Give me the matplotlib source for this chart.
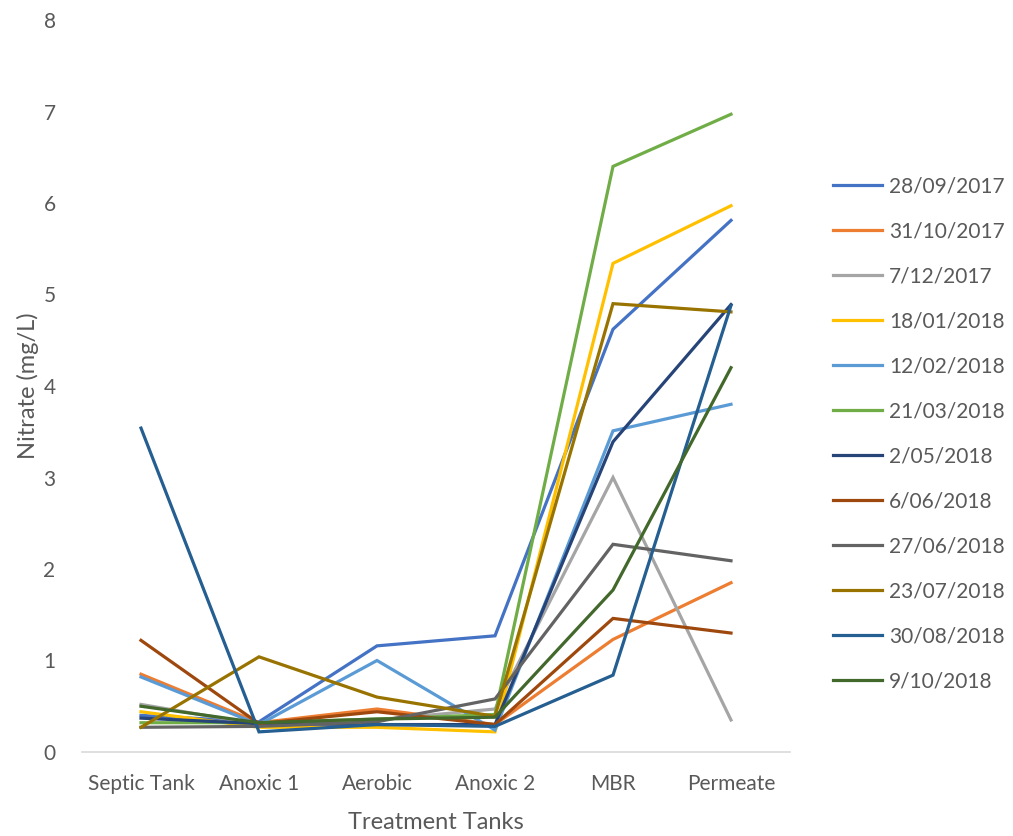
import matplotlib
matplotlib.use("Agg")
import matplotlib.pyplot as plt

tanks = ["Septic Tank", "Anoxic 1", "Aerobic", "Anoxic 2", "MBR", "Permeate"]

dates = ["28/09/2017", "31/10/2017", "7/12/2017", "18/01/2018", "12/02/2018",
         "21/03/2018", "2/05/2018", "6/06/2018", "27/06/2018", "23/07/2018",
         "30/08/2018", "9/10/2018"]

s_28_09_2017 = [0.40, 0.33, 1.16, 1.27, 4.62, 5.81]
s_31_10_2017 = [0.85, 0.32, 0.47, 0.30, 1.23, 1.85]
s_07_12_2017 = [0.52, 0.30, 0.35, 0.47, 3.00, 0.35]
s_18_01_2018 = [0.44, 0.27, 0.27, 0.22, 5.34, 5.97]
s_12_02_2018 = [0.82, 0.30, 1.00, 0.24, 3.51, 3.80]
s_21_03_2018 = [0.32, 0.32, 0.36, 0.41, 6.40, 6.97]
s_02_05_2018 = [0.37, 0.31, 0.30, 0.30, 3.39, 4.89]
s_06_06_2018 = [1.22, 0.31, 0.44, 0.30, 1.46, 1.30]
s_27_06_2018 = [0.27, 0.28, 0.33, 0.58, 2.27, 2.09]
s_23_07_2018 = [0.27, 1.04, 0.60, 0.39, 4.90, 4.81]
s_30_08_2018 = [3.54, 0.22, 0.30, 0.28, 0.84, 4.88]
s_09_10_2018 = [0.50, 0.32, 0.36, 0.38, 1.77, 4.20]

series = [s_28_09_2017, s_31_10_2017, s_07_12_2017, s_18_01_2018, s_12_02_2018,
          s_21_03_2018, s_02_05_2018, s_06_06_2018, s_27_06_2018, s_23_07_2018,
          s_30_08_2018, s_09_10_2018]

colors = ["#4472C4", "#ED7D31", "#A5A5A5", "#FFC000", "#5B9BD5", "#70AD47",
          "#264478", "#9E480E", "#636363", "#997300", "#255E91", "#43682B"]

plt.rcParams["font.family"] = ["Lato", "DejaVu Sans"]
text_color = "#595959"

fig = plt.figure(figsize=(10.13, 8.36), dpi=100)
ax = fig.add_axes([82 / 1013, 1 - 752 / 836, (790 - 82) / 1013, (752 - 20) / 836])

x = list(range(len(tanks)))
for vals, lab, c in zip(series, dates, colors):
    ax.plot(x, vals, color=c, lw=2.3, label=lab, solid_joinstyle="miter")

ax.set_xlim(-0.5, len(tanks) - 0.5)
ax.set_ylim(0, 8)
ax.set_xticks(x)
ax.set_xticklabels(tanks)
ax.set_yticks(range(0, 9))

for side in ["top", "right", "left"]:
    ax.spines[side].set_visible(False)
ax.spines["bottom"].set_color("#D9D9D9")
ax.spines["bottom"].set_linewidth(1.2)
ax.tick_params(axis="both", length=0, labelsize=15, colors=text_color)
ax.tick_params(axis="y", pad=19)
ax.tick_params(axis="x", pad=16)

ax.set_xlabel("Treatment Tanks", fontsize=17, color=text_color, labelpad=13)
ax.set_ylabel("Nitrate (mg/L)", fontsize=17, color=text_color, labelpad=3)

leg = fig.legend(loc="upper left", bbox_to_anchor=(814 / 1013, 1 - 158 / 836),
                 frameon=False, fontsize=15, handlelength=2.35, handletextpad=0.35,
                 labelspacing=1.2)
for t in leg.get_texts():
    t.set_color(text_color)
for h in leg.get_lines():
    h.set_linewidth(2.3)

fig.savefig("out.png", dpi=100)
